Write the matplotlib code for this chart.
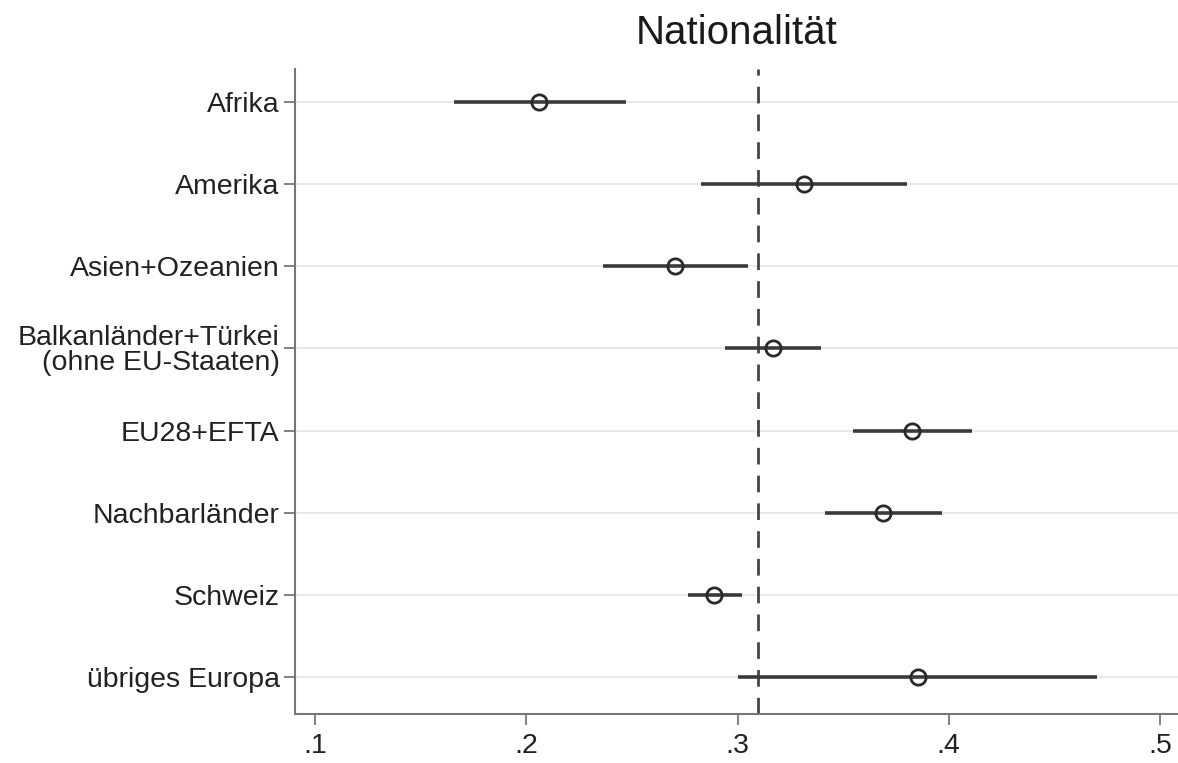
import matplotlib.pyplot as plt
import numpy as np

plt.rcParams['font.family'] = ['Liberation Sans', 'DejaVu Sans']

# regions of origin with point estimates and confidence bounds
labels = ['Afrika', 'Amerika', 'Asien+Ozeanien',
          'Balkanländer+Türkei\n(ohne EU-Staaten)', 'EU28+EFTA',
          'Nachbarländer', 'Schweiz', 'übriges Europa']
est = [0.206, 0.3315, 0.2705, 0.317, 0.3825, 0.369, 0.289, 0.3855]
lo = [0.166, 0.2825, 0.2365, 0.294, 0.3545, 0.3415, 0.2765, 0.300]
hi = [0.247, 0.380, 0.305, 0.3395, 0.411, 0.397, 0.302, 0.470]
overall = 0.3095
xticks = [0.1, 0.2, 0.3, 0.4, 0.5]
xticklabels = ['.1', '.2', '.3', '.4', '.5']

fig = plt.figure(figsize=(11.78, 7.63), dpi=100)
ax = fig.add_axes([295 / 1178, 1 - 714 / 763, 883 / 1178, 645 / 763])

y = np.arange(len(labels))
for yi in y:
    ax.axhline(yi, color='#e8e8e8', lw=1.4, zorder=0)

ax.hlines(y, lo, hi, color='#3a3a3a', lw=2.6, zorder=2)
ax.plot(est, y, 'o', ms=11, mfc='none', mec='#2a2a2a', mew=2, zorder=3)
ax.axvline(overall, color='#444444', lw=2, ls=(0, (6, 4)), zorder=1)

ax.set_yticks(y)
ax.set_yticklabels(labels, fontsize=20.5, color='#222222', linespacing=0.95)
ax.set_xticks(xticks)
ax.set_xticklabels(xticklabels, fontsize=20.5, color='#222222')
ax.set_xlim(0.0905, 0.5085)
ax.set_ylim(len(labels) - 0.55, -0.4)

for side in ['top', 'right']:
    ax.spines[side].set_visible(False)
for side in ['left', 'bottom']:
    ax.spines[side].set_color('#777777')
    ax.spines[side].set_linewidth(1.5)
ax.tick_params(axis='y', length=8, width=1.3, color='#777777', pad=3)
ax.tick_params(axis='x', length=8, width=1.3, color='#777777', pad=6)

ax.set_title('Nationalität', fontsize=29, color='#1a1a1a', pad=18)

fig.savefig('out.png', dpi=100)
